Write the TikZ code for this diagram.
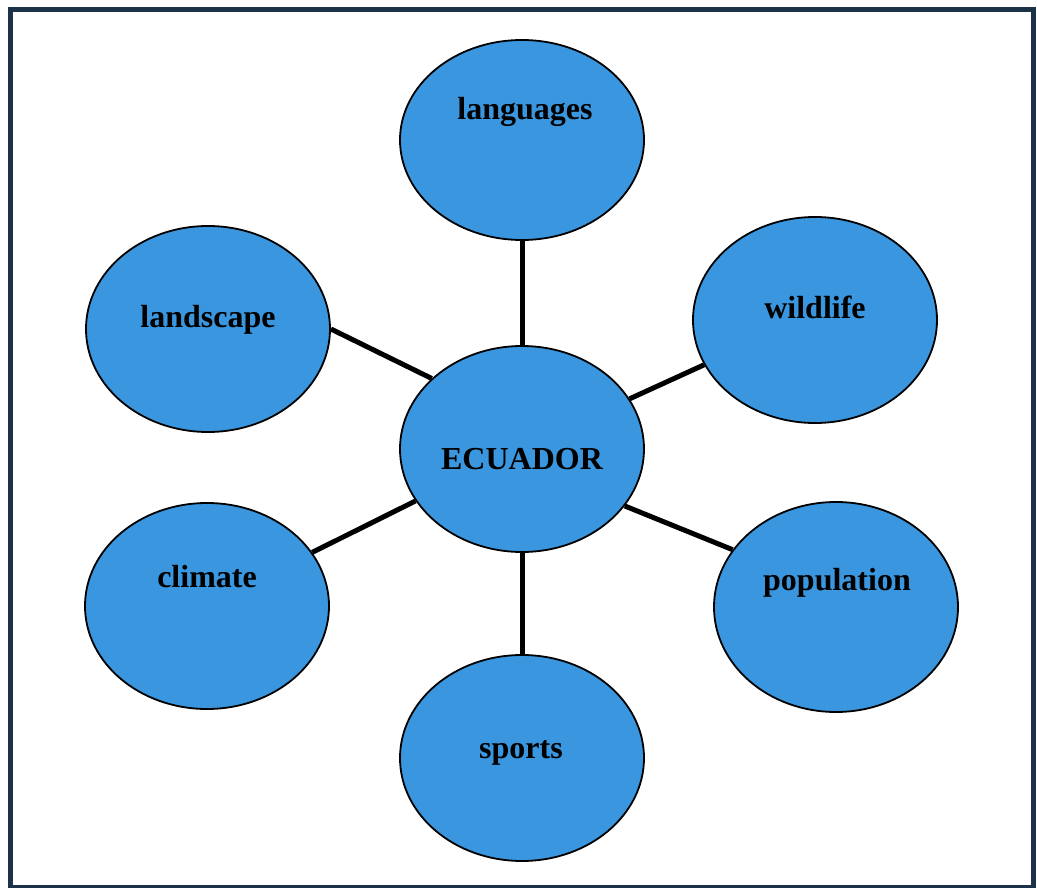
\documentclass[tikz,border=0pt]{standalone}
\usepackage{fontspec}
\setmainfont{Liberation Serif}
\usetikzlibrary{shapes.geometric,backgrounds}
\definecolor{bubble}{RGB}{58,150,222}
\definecolor{framecol}{RGB}{28,50,72}
\tikzset{
  bubble/.style={ellipse, draw=black, line width=1.8pt, fill=bubble,
    minimum width=244pt, minimum height=206pt, inner sep=0pt},
  word/.style={anchor=base, inner sep=0pt, text=black,
    font=\fontsize{32}{38}\selectfont\bfseries},
  link/.style={draw=black, line width=5pt},
  outline/.style={draw=framecol, line width=5pt}
}
\begin{document}
\begin{tikzpicture}[x=1pt, y=-1pt]
  \useasboundingbox (0,0) rectangle (1037,888);
  % page frame
  \draw[outline] (10.5,10) rectangle (1033.5,887);

  % bubbles
  \node[bubble] (ecuador)    at (522,449) {};
  \node[bubble, minimum height=200pt] (languages) at (522,140) {};
  \node[bubble] (landscape)  at (208,329) {};
  \node[bubble] (wildlife)   at (815,320) {};
  \node[bubble] (climate)    at (207,606) {};
  \node[bubble, minimum height=210pt] (population) at (836,607) {};
  \node[bubble] (sports)     at (522,758) {};

  % labels
  \node[word] (t-ecuador)    at (522,469) {ECUADOR};
  \node[word] (t-languages)  at (525,120) {languages};
  \node[word] (t-landscape)  at (208,327) {landscape};
  \node[word] (t-wildlife)   at (815,318) {wildlife};
  \node[word] (t-climate)    at (207,587) {climate};
  \node[word] (t-population) at (837,590) {population};
  \node[word] (t-sports)     at (521,758) {sports};

  % spokes behind the bubbles
  \begin{scope}[on background layer]
    \draw[link] (ecuador.north) -- (languages.south);
    \draw[link] (ecuador.south) -- (sports.north);
    \draw[link] (ecuador.142) -- (landscape.east);
    \draw[link] (ecuador.25)  -- (wildlife.202);
    \draw[link] (ecuador.206) -- (climate.27);
    \draw[link] (ecuador.331) -- (population.151);
  \end{scope}
\end{tikzpicture}
\end{document}
